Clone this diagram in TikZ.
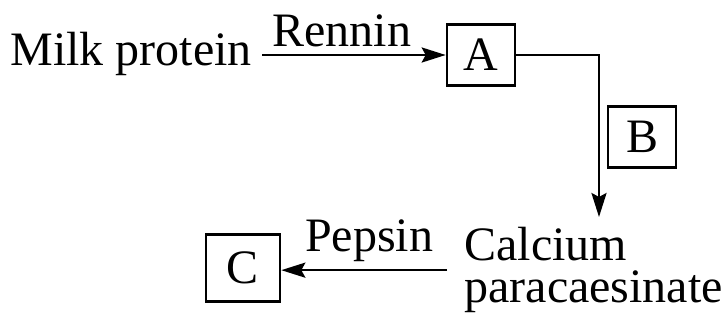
\documentclass[tikz,border=0pt]{standalone}
\usepackage{fontspec}
\setmainfont{Liberation Serif}
\usetikzlibrary{arrows.meta}
\begin{document}
\begin{tikzpicture}[x=0.5pt,y=-0.5pt,
    font=\fontsize{24}{21}\selectfont,
    kasten/.style={draw, line width=1.3pt, minimum width=34pt, minimum height=30.5pt, inner sep=0pt},
    pfeil/.style={line width=1.3pt, -{Stealth[length=12pt,width=7.5pt,inset=2pt]}}]
\useasboundingbox (0,0) rectangle (728,321);
% Milk protein -> A
\node[anchor=base west, inner xsep=5pt, inner ysep=0pt] (milk) at (0,65) {Milk protein};
\node[kasten] (A) at (481,55) {A};
\draw[pfeil] (milk.east |- A.west) -- node[above, pos=0.435] (rennin) {Rennin} (A.west);
% B
\node[kasten] (B) at (642,137) {B};
\coordinate (ziel) at (599,217);
\draw[pfeil] (A.east) -| (ziel);
% Calcium paracaesinate -> C
\node[anchor=north west, align=left, inner xsep=8.5pt, inner ysep=0pt] (calcium) at (447,227) {Calcium\\paracaesinate};
\node[kasten, minimum width=37pt, minimum height=33.5pt] (C) at (243,268) {C};
\draw[pfeil] (calcium.west) -- node[above, pos=0.47] (pepsin) {Pepsin} (calcium.west -| C.east);
\end{tikzpicture}
\end{document}
